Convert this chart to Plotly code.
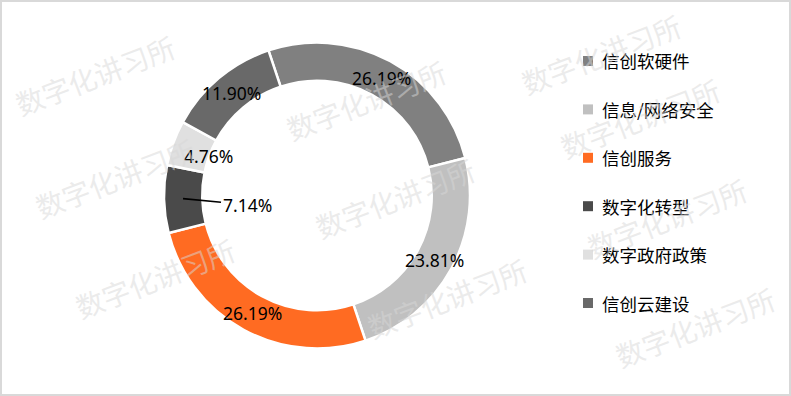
import math
import plotly.graph_objects as go

# ---- data ----
categories = ["信创软硬件", "信息/网络安全", "信创服务", "数字化转型", "数字政府政策", "信创云建设"]
shares = [26.19, 23.81, 26.19, 7.14, 4.76, 11.90]
colors = ["#808080", "#C0C0C0", "#FF6B22", "#4A4A4A", "#E0E0E0", "#696969"]
watermark_text = "数字化讲习所"

W, H = 791, 396
CX, CY = 317, 195.5        # pie centre (px)
R_OUT = 153
HOLE = 0.75
ROT = -18.5                # start angle, degrees clockwise from 12 o'clock
R_LABEL = 134

def px(x):
    return x / W

def py(y):
    return 1 - y / H

fig = go.Figure()
fig.add_trace(go.Pie(
    labels=categories,
    values=shares,
    sort=False,
    direction="clockwise",
    rotation=ROT,
    hole=HOLE,
    textinfo="none",
    hoverinfo="label+percent",
    marker=dict(colors=colors, line=dict(color="#FFFFFF", width=2.5)),
    domain=dict(x=[px(CX - R_OUT), px(CX + R_OUT)], y=[py(CY + R_OUT), py(CY - R_OUT)]),
    showlegend=False,
))

annotations = []
shapes = []

# ---- data labels, positioned from cumulative shares ----
total = sum(shares)
label_radius = {4: 116}
cum = 0.0
for i, v in enumerate(shares):
    mid = ROT + (cum + v / 2) / total * 360
    cum += v
    a = math.radians(mid)
    txt = f"{v:.2f}%"
    if i == 3:
        hx = CX + R_LABEL * math.sin(a)
        hy = CY - R_LABEL * math.cos(a)
        annotations.append(dict(
            x=px(hx), y=py(hy), xref="paper", yref="paper",
            text=txt, showarrow=True, arrowhead=0, arrowwidth=1.6, arrowcolor="#000000",
            ax=64, ay=6, standoff=0,
            font=dict(family="Noto Sans, sans-serif", size=17.5, color="#000000"),
        ))
    else:
        r = label_radius.get(i, R_LABEL)
        lx = CX + r * math.sin(a)
        ly = CY - r * math.cos(a)
        annotations.append(dict(
            x=px(lx), y=py(ly), xref="paper", yref="paper",
            text=txt, showarrow=False, xanchor="center", yanchor="middle",
            font=dict(family="Noto Sans, sans-serif", size=17.5, color="#000000"),
        ))

# ---- legend ----
LEG_X, LEG_Y0, LEG_DY = 583, 61, 48.4
for i, (c, col) in enumerate(zip(categories, colors)):
    yc = LEG_Y0 + i * LEG_DY
    shapes.append(dict(type="rect", xref="paper", yref="paper",
                       x0=px(LEG_X), x1=px(LEG_X + 10), y0=py(yc + 5), y1=py(yc - 5),
                       fillcolor=col, line=dict(width=0)))
    annotations.append(dict(
        x=px(600), y=py(yc), xref="paper", yref="paper", text=c, showarrow=False,
        xanchor="left", yanchor="middle",
        font=dict(family="Noto Sans CJK SC, sans-serif", size=17.5, color="#000000"),
    ))

# ---- faint watermark tiles ----
wm_centres = [(95, 75), (115, 178), (155, 278), (366, 100),
              (395, 198), (447, 298), (601, 54), (640, 118), (667, 218), (695, 327)]
for (wx, wy) in wm_centres:
    annotations.append(dict(
        x=px(wx), y=py(wy), xref="paper", yref="paper", text=watermark_text,
        showarrow=False, textangle=-21, xanchor="center", yanchor="middle",
        font=dict(family="Noto Sans CJK SC, sans-serif", size=28, color="rgba(215,215,215,0.5)"),
    ))

# frame
shapes.append(dict(type="rect", xref="paper", yref="paper", x0=0, x1=1, y0=0, y1=1,
                   line=dict(color="#D9D9D9", width=4), fillcolor="rgba(0,0,0,0)"))

fig.update_layout(
    width=W, height=H,
    margin=dict(l=0, r=0, t=0, b=0),
    paper_bgcolor="#FFFFFF", plot_bgcolor="#FFFFFF",
    annotations=annotations, shapes=shapes,
)

fig.write_html("out.html",
               config={"displayModeBar": False},
               post_script="document.body.style.margin='0';document.body.style.padding='0';document.body.style.overflow='hidden';")
